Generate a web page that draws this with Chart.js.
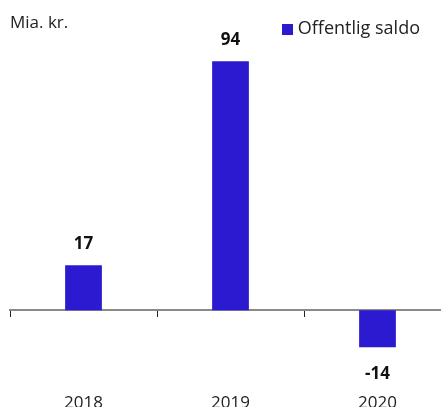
<!DOCTYPE html>
<html>
<head>
<meta charset="utf-8">
<script src="https://cdn.jsdelivr.net/npm/chart.js@4/dist/chart.umd.min.js"></script>
<style>
  html, body { margin: 0; padding: 0; background: #fff; }
  #wrap { position: relative; width: 441px; height: 407px; overflow: hidden; }
  #c { position: absolute; left: 0; top: -20px; }
</style>
</head>
<body>
<div id="wrap"><canvas id="c" width="451" height="440"></canvas></div>
<script>
const categories = ['2018', '2019', '2020'];
const saldo = [17, 94, -14];
const seriesName = 'Offentlig saldo';
const unitLabel = 'Mia. kr.';

const barColor = '#2b1ad0';
const FONT = "'Open Sans', 'Liberation Sans', sans-serif";

// legend marker
const marker = document.createElement('canvas');
marker.width = 11; marker.height = 11;
const mctx = marker.getContext('2d');
mctx.fillStyle = barColor;
mctx.fillRect(0, 0, 11, 11);

const labelsPlugin = {
  id: 'valueLabels',
  afterDatasetsDraw(chart) {
    const ctx = chart.ctx;
    ctx.save();
    ctx.font = "bold 17px " + FONT;
    ctx.fillStyle = '#111';
    ctx.textAlign = 'center';
    ctx.textBaseline = 'alphabetic';
    chart.data.datasets.forEach((ds, di) => {
      chart.getDatasetMeta(di).data.forEach((bar, i) => {
        const v = ds.data[i];
        const y = v >= 0 ? bar.y - 16 : bar.y + 32;
        ctx.fillText(String(v), bar.x, y);
      });
    });
    ctx.font = "17px " + FONT;
    ctx.fillStyle = '#222';
    ctx.textAlign = 'left';
    ctx.fillText(unitLabel, 10, 48);
    ctx.restore();
  }
};

new Chart(document.getElementById('c'), {
  type: 'bar',
  data: {
    labels: categories,
    datasets: [{
      label: seriesName,
      data: saldo,
      backgroundColor: barColor,
      borderWidth: 0,
      barPercentage: 0.5,
      categoryPercentage: 0.5,
      pointStyle: marker
    }]
  },
  options: {
    responsive: false,
    animation: false,
    events: [],
    layout: { padding: { top: 9, left: 10, right: 0, bottom: 0 } },
    plugins: {
      legend: {
        display: true,
        position: 'top',
        align: 'end',
        labels: {
          usePointStyle: true,
          pointStyle: marker,
          pointStyleWidth: 2,
          padding: 31,
          color: '#222',
          font: { family: FONT, size: 18 }
        }
      },
      title: { display: false },
      tooltip: { enabled: false }
    },
    scales: {
      x: {
        type: 'category',
        position: { y: 0 },
        grid: {
          display: true,
          offset: true,
          drawOnChartArea: false,
          drawTicks: true,
          tickLength: 6,
          tickColor: '#222',
          tickWidth: 1
        },
        border: { display: true, color: '#8a8a8a', width: 2 },
        ticks: { display: false }
      },
      x2: {
        type: 'category',
        labels: categories,
        position: 'bottom',
        grid: { display: false },
        border: { display: false },
        ticks: { padding: 1, color: '#222', font: { family: FONT, size: 17 } },
        afterFit(scale) { scale.height = 35.6; }
      },
      y: {
        display: false,
        min: -28,
        max: 99
      }
    }
  },
  plugins: [labelsPlugin]
});
</script>
</body>
</html>
